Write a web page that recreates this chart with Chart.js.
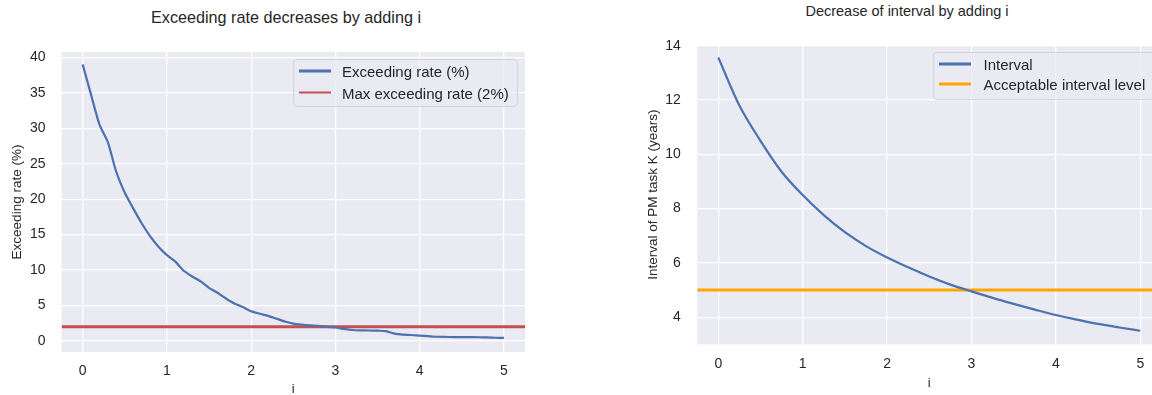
<!DOCTYPE html>
<html>
<head>
<meta charset="utf-8">
<script src="https://cdn.jsdelivr.net/npm/chart.js@4.4.1/dist/chart.umd.min.js"></script>
<style>
  html, body { margin: 0; padding: 0; background: #fff; }
  body { position: relative; width: 1152px; height: 395px; overflow: hidden;
         font-family: "Liberation Sans", Arial, sans-serif; color: #262626; }
  canvas { position: absolute; top: 0; }
  #rateChart { left: 0; }
  #intervalChart { left: 600px; }
  .title { position: absolute; white-space: nowrap; line-height: 1; transform: translate(-50%, -50%); }
  .legend { position: absolute; box-sizing: border-box; border: 1px solid #d2d2da; border-radius: 4px;
            background: rgba(234, 234, 242, 0.8); }
  .legend .row { position: absolute; display: flex; align-items: center; white-space: nowrap;
                 transform: translateY(-50%); font-size: 15px; line-height: 1; color: #262626; }
  .legend .swatch { display: inline-block; }
</style>
</head>
<body>
<div class="title" id="rateTitle" style="left:286px; top:17px; font-size:16.2px;">Exceeding rate decreases by adding i</div>
<div class="title" id="intervalTitle" style="left:907px; top:11px; font-size:14.5px;">Decrease of interval by adding i</div>
<canvas id="rateChart" width="580" height="410"></canvas>
<canvas id="intervalChart" width="580" height="410"></canvas>
<div class="legend" id="rateLegend" style="left:293px; top:59px; width:225px; height:48px;"></div>
<div class="legend" id="intervalLegend" style="left:933px; top:52px; width:240px; height:48px;"></div>

<script>
// ---- data: exceeding rate (%) against i ----
const rateI = [0, 0.1, 0.2, 0.3, 0.4, 0.5, 0.6, 0.7, 0.8, 0.9,
               1.0, 1.1, 1.2, 1.3, 1.4, 1.5, 1.6, 1.7, 1.8, 1.9,
               2.0, 2.1, 2.2, 2.3, 2.4, 2.5, 2.6, 2.7, 2.8, 2.9,
               3.0, 3.1, 3.2, 3.3, 3.4, 3.5, 3.6, 3.7, 3.8, 3.9,
               4.0, 4.1, 4.2, 4.3, 4.4, 4.5, 4.6, 4.7, 4.8, 4.9, 5.0];
const exceedingRate = [39.0, 34.7, 30.5, 28.0, 23.8, 20.9, 18.7, 16.6, 14.8, 13.3,
                       12.1, 11.2, 9.9, 9.1, 8.4, 7.5, 6.8, 6.0, 5.3, 4.8,
                       4.2, 3.85, 3.55, 3.15, 2.75, 2.45, 2.3, 2.2, 2.15, 2.0,
                       1.9, 1.7, 1.55, 1.5, 1.48, 1.45, 1.4, 1.05, 0.9, 0.85,
                       0.76, 0.68, 0.6, 0.57, 0.56, 0.55, 0.54, 0.53, 0.5, 0.46, 0.44];
const maxExceedingRate = 2;

// ---- data: PM task K interval (years) against i ----
const intervalI = [0, 0.25, 0.5, 0.75, 1.0, 1.25, 1.5, 1.75, 2.0, 2.25, 2.5,
                   2.75, 3.0, 3.25, 3.5, 3.75, 4.0, 4.25, 4.5, 4.75, 5.0];
const intervalYears = [13.57, 11.8, 10.5, 9.36, 8.5, 7.76, 7.13, 6.62, 6.2, 5.84, 5.5,
                       5.2, 4.95, 4.71, 4.49, 4.28, 4.08, 3.91, 3.75, 3.62, 3.5];
const acceptableInterval = 5;

// ---- tick labels ----
const iTicks = [0, 1, 2, 3, 4, 5];
const rateTicks = [0, 5, 10, 15, 20, 25, 30, 35, 40];
const intervalTicks = [4, 6, 8, 10, 12, 14];

const FONT = '"Liberation Sans", Arial, sans-serif';
const TEXT = '#262626';
const BLUE = '#4c72b0', RED = '#c44e52', ORANGE = '#ffa500';

// grey panel behind the plotting area
const panelBg = {
  id: 'panelBg',
  beforeDraw(chart) {
    const { ctx, chartArea: a } = chart;
    ctx.save();
    ctx.fillStyle = '#eaeaf2';
    ctx.fillRect(a.left, a.top, a.right - a.left, a.bottom - a.top);
    ctx.restore();
  }
};

function makeOptions(o) {
  return {
    responsive: false,
    animation: false,
    layout: { padding: { left: 0, top: o.top, right: o.right, bottom: 0 } },
    plugins: { legend: { display: false }, tooltip: { enabled: false }, title: { display: false } },
    scales: {
      x: {
        type: 'linear', min: o.xMin, max: o.xMax,
        afterFit(s) { s.height = o.xHeight; },
        afterBuildTicks(s) { s.ticks = iTicks.map(v => ({ value: v })); },
        grid: { color: '#ffffff', lineWidth: 1.3, drawTicks: false },
        border: { display: false },
        ticks: { color: TEXT, font: { family: FONT, size: 14 }, padding: o.xTickPad },
        title: { display: true, text: 'i', color: TEXT, font: { family: FONT, size: 13 },
                 padding: { top: 0, bottom: o.xTitlePad } }
      },
      y: {
        type: 'linear', min: o.yMin, max: o.yMax,
        afterFit(s) { s.width = o.yWidth; },
        afterBuildTicks(s) { s.ticks = o.yTicks.map(v => ({ value: v })); },
        grid: { color: '#ffffff', lineWidth: 1.3, drawTicks: false },
        border: { display: false },
        ticks: { color: TEXT, font: { family: FONT, size: 14 }, padding: o.yTickPad },
        title: { display: true, text: o.yTitle, color: TEXT, font: { family: FONT, size: 13.5 },
                 padding: { top: o.yTitlePad, bottom: 0 } }
      }
    }
  };
}

function points(xs, ys) { return xs.map((x, k) => ({ x, y: ys[k] })); }
function level(value, xMin, xMax) { return [{ x: xMin, y: value }, { x: xMax, y: value }]; }

// left panel: exceeding rate
const rateX = { min: -0.25, max: 5.25 };
const rateChart = new Chart(document.getElementById('rateChart'), {
  type: 'line',
  data: {
    datasets: [
      { label: 'Exceeding rate (%)', data: points(rateI, exceedingRate),
        borderColor: BLUE, borderWidth: 2.2, pointRadius: 0, tension: 0.2, order: 1 },
      { label: 'Max exceeding rate (2%)', data: level(maxExceedingRate, rateX.min, rateX.max),
        borderColor: RED, borderWidth: 3, pointRadius: 0, tension: 0, order: 2 }
    ]
  },
  options: makeOptions({
    top: 52, right: 55, xMin: rateX.min, xMax: rateX.max, xHeight: 58,
    xTickPad: 10.5, xTitlePad: 13,
    yMin: -1.55, yMax: 40.75, yWidth: 61.6, yTicks: rateTicks, yTickPad: 16,
    yTitle: 'Exceeding rate (%)', yTitlePad: 9.6
  }),
  plugins: [panelBg]
});

// right panel: interval of PM task K
const intX = { min: -0.25, max: 5.25 };
const intervalChart = new Chart(document.getElementById('intervalChart'), {
  type: 'line',
  data: {
    datasets: [
      { label: 'Interval', data: points(intervalI, intervalYears),
        borderColor: BLUE, borderWidth: 2.2, pointRadius: 0, cubicInterpolationMode: 'monotone', order: 1 },
      { label: 'Acceptable interval level', data: level(acceptableInterval, intX.min, intX.max),
        borderColor: ORANGE, borderWidth: 3, pointRadius: 0, tension: 0, order: 2 }
    ]
  },
  options: makeOptions({
    top: 45, right: 18.6, xMin: intX.min, xMax: intX.max, xHeight: 65.7,
    xTickPad: 11.5, xTitlePad: 19,
    yMin: 3.0, yMax: 14.03, yWidth: 97.2, yTicks: intervalTicks, yTickPad: 16.5,
    yTitle: 'Interval of PM task K (years)', yTitlePad: 44.9
  }),
  plugins: [panelBg]
});

// legend boxes built from the chart datasets
function buildLegend(el, chart, rows, swatchLeft, textLeft) {
  chart.data.datasets.forEach((ds, k) => {
    const row = document.createElement('div');
    row.className = 'row';
    row.style.left = swatchLeft + 'px';
    row.style.top = rows[k] + 'px';
    const sw = document.createElement('span');
    sw.className = 'swatch';
    sw.style.width = '32px';
    sw.style.height = '2.5px';
    sw.style.background = ds.borderColor;
    sw.style.marginRight = (textLeft - swatchLeft - 32) + 'px';
    const tx = document.createElement('span');
    tx.textContent = ds.label;
    row.appendChild(sw);
    row.appendChild(tx);
    el.appendChild(row);
  });
}
buildLegend(document.getElementById('rateLegend'), rateChart, [11, 32.5], 5, 48);
buildLegend(document.getElementById('intervalLegend'), intervalChart, [11, 31], 4.5, 49.5);
</script>
</body>
</html>
